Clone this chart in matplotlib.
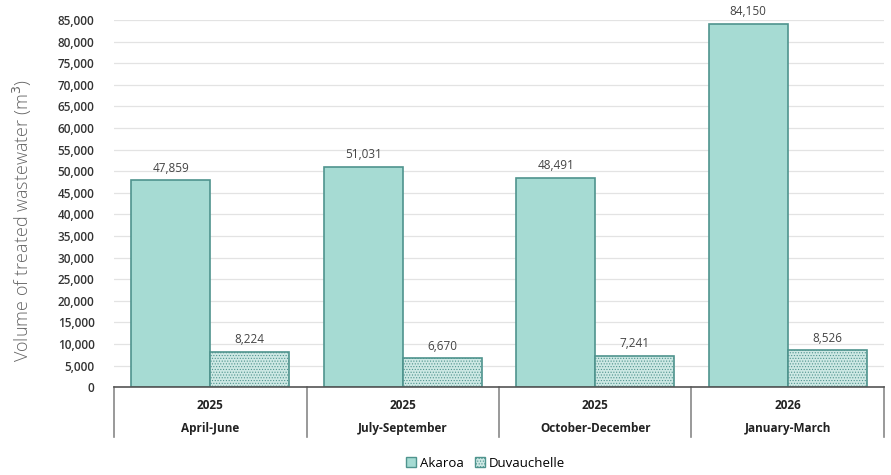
import numpy as np
import matplotlib.pyplot as plt
import matplotlib.transforms as mtransforms
from matplotlib.patches import Patch

plt.rcParams['font.family'] = ['Open Sans', 'DejaVu Sans']
plt.rcParams['hatch.linewidth'] = 0.5

years = ['2025', '2025', '2025', '2026']
quarters = ['April-June', 'July-September', 'October-December', 'January-March']
akaroa = [47859, 51031, 48491, 84150]
duvauchelle = [8224, 6670, 7241, 8526]

fill = '#a6dbd3'
fill2 = '#cde8e4'
edge = '#4f948e'

fig = plt.figure(figsize=(8.91, 4.75), dpi=100)
ax = fig.add_axes([0.128, 0.185, 0.864, 0.773])

x = np.arange(len(quarters))
w = 0.41
b1 = ax.bar(x - w / 2, akaroa, w, color=fill, edgecolor=edge, linewidth=1.2, zorder=3)
b2 = ax.bar(x + w / 2, duvauchelle, w, color=fill2, edgecolor=edge, linewidth=1.2,
            hatch='......', zorder=3)

for bars, vals in ((b1, akaroa), (b2, duvauchelle)):
    for r, v in zip(bars, vals):
        ax.text(r.get_x() + r.get_width() / 2, v + 1300, f'{v:,}', ha='center', va='bottom',
                fontsize=8.5, color='#444444')

ax.set_xlim(-0.5, len(quarters) - 0.5)
ax.set_ylim(0, 85000)
ax.set_yticks(np.arange(0, 85001, 5000))
ax.set_yticklabels([f'{t:,}' for t in range(0, 85001, 5000)], fontsize=8.5,
                   color='#333333', fontweight='semibold')
ax.tick_params(axis='y', length=0, pad=14)
ax.tick_params(axis='x', length=0, labelbottom=False)
ax.grid(axis='y', color='#e3e3e3', linewidth=0.9, zorder=0)
for s in ('top', 'right', 'left'):
    ax.spines[s].set_visible(False)
ax.spines['bottom'].set_color('#555555')
ax.spines['bottom'].set_linewidth(1.2)
ax.spines['bottom'].set_zorder(4)

ax.set_ylabel('Volume of treated wastewater (m$^3$)', fontsize=13, color='#666666',
              fontweight='light', va='center')
ax.yaxis.set_label_coords(-0.119, 0.455)

# two-level category axis below the plot
trans = mtransforms.blended_transform_factory(ax.transData, ax.transAxes)
for i in range(len(quarters)):
    ax.text(i, -0.049, years[i], transform=trans, ha='center', va='center',
            fontsize=8.5, fontweight='bold', color='#222222')
    ax.text(i, -0.114, quarters[i], transform=trans, ha='center', va='center',
            fontsize=8.5, fontweight='bold', color='#222222')
for b in np.arange(-0.5, len(quarters), 1.0):
    ax.plot([b, b], [0, -0.136], transform=trans, color='#888888', linewidth=1.2,
            clip_on=False)

handles = [Patch(facecolor=fill, edgecolor=edge, label='Akaroa'),
           Patch(facecolor=fill2, edgecolor=edge, hatch='......', label='Duvauchelle')]
fig.legend(handles=handles, loc='center', bbox_to_anchor=(0.545, 0.025), ncol=2,
           frameon=False, fontsize=9.5, handlelength=0.8, handleheight=0.8,
           handletextpad=0.3, columnspacing=0.8)

fig.savefig('out.png', dpi=100)
